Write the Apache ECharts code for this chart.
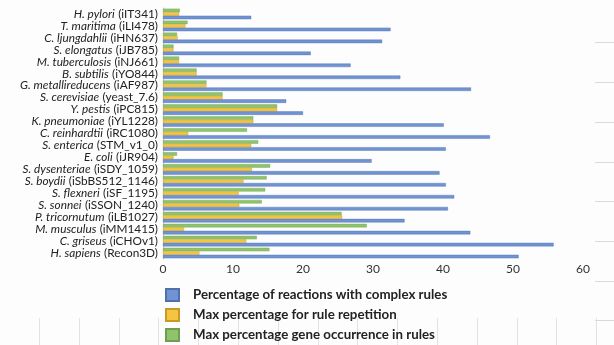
<!DOCTYPE html>
<html><head><meta charset="utf-8">
<script src="https://cdn.jsdelivr.net/npm/echarts@6/dist/echarts.min.js"></script>
<style>html,body{margin:0;padding:0;background:#fff}#c{width:614px;height:345px}</style>
</head><body><div id="c"></div>
<script>
// ---- data ----
const species = ['H. pylori','T. maritima','C. ljungdahlii','S. elongatus','M. tuberculosis','B. subtilis','G. metallireducens','S. cerevisiae','Y. pestis','K. pneumoniae','C. reinhardtii','S. enterica','E. coli','S. dysenteriae','S. boydii','S. flexneri','S. sonnei','P. tricornutum','M. musculus','C. griseus','H. sapiens'];
const models = ['iIT341','iLI478','iHN637','iJB785','iNJ661','iYO844','iAF987','yeast_7.6','iPC815','iYL1228','iRC1080','STM_v1_0','iJR904','iSDY_1059','iSbBS512_1146','iSF_1195','iSSON_1240','iLB1027','iMM1415','iCHOv1','Recon3D'];
const complexRules   = [12.6,32.5,31.3,21.1,26.8,33.9,44.0,17.6,20.0,40.1,46.7,40.4,29.8,39.5,40.4,41.6,40.7,34.5,43.9,55.8,50.8];
const ruleRepetition = [2.3,3.2,2.1,1.5,2.3,4.8,6.2,8.5,16.3,12.9,3.6,12.6,1.5,12.7,11.5,10.8,10.9,25.6,3.0,11.9,5.2];
const geneOccurrence = [2.4,3.5,2.0,1.5,2.3,4.8,6.2,8.5,16.3,12.9,12.0,13.6,2.0,15.3,14.8,14.6,14.1,25.5,29.1,13.4,15.2];
const seriesNames = ['Percentage of reactions with complex rules','Max percentage for rule repetition','Max percentage gene occurrence in rules'];
const xTicks = [0,10,20,30,40,50,60];

const categories = species.map((s,i)=>s+'|'+models[i]);
const colors = {blue:'#6f93d3', yellow:'#f5c542', green:'#8fc46c'};

// background spreadsheet grid decorations
const deco = [];
[42,82,122,162,201,241,281].forEach(y=>deco.push({type:'line',shape:{x1:595,y1:y+0.5,x2:614,y2:y+0.5},style:{stroke:'#d9d9d9',lineWidth:1},z:-10}));
for(let k=0;k<15;k++){const x=Math.round(39+39.8*k)+0.5;deco.push({type:'line',shape:{x1:x,y1:318,x2:x,y2:345},style:{stroke:'#e3e3e3',lineWidth:1},z:-10});}
deco.push({type:'line',shape:{x1:595,y1:320.5,x2:614,y2:320.5},style:{stroke:'#d9d9d9',lineWidth:1},z:-10});

const FONT = 'Lato';
const legendRows = seriesNames.map((n,i)=>({
  orient:'horizontal',left:160,top:283+20*i,itemWidth:13,itemHeight:12,icon:'rect',
  data:[n],backgroundColor:'transparent',
  textStyle:{fontFamily:FONT,fontWeight:'bold',fontSize:13.3,color:'#222',padding:[0,0,0,9]}
}));

const chart = echarts.init(document.getElementById('c'));
chart.setOption({
  animation:false,
  backgroundColor:'#fdfdfd',
  graphic: deco,
  grid:{left:163,right:31,top:8,bottom:86,containLabel:false},
  xAxis:{type:'value',min:xTicks[0],max:xTicks[xTicks.length-1],interval:10,
    axisLine:{show:false},axisTick:{show:false},splitLine:{show:false},
    axisLabel:{color:'#333',fontSize:12,fontFamily:FONT,margin:4}},
  yAxis:{type:'category',inverse:true,data:categories,
    axisLine:{lineStyle:{color:'#c8c8c8'}},axisTick:{show:false},
    axisLabel:{interval:0,margin:5,formatter:v=>{const p=v.split('|');return '{i|'+p[0]+'} {n|('+p[1]+')}';},
      rich:{i:{fontStyle:'italic',fontSize:11.8,fontFamily:FONT,color:'#222'},n:{fontSize:11.8,fontFamily:FONT,color:'#222'}}}},
  legend: legendRows,
  series:[
    {name:seriesNames[2],type:'bar',data:geneOccurrence,itemStyle:{color:colors.green,borderColor:'#6f9e52',borderWidth:0.4},barGap:'0%',barCategoryGap:'12%'},
    {name:seriesNames[1],type:'bar',data:ruleRepetition,itemStyle:{color:colors.yellow,borderColor:'#c99a22',borderWidth:0.4},barGap:'0%',barCategoryGap:'12%'},
    {name:seriesNames[0],type:'bar',data:complexRules,itemStyle:{color:colors.blue,borderColor:'#4f70aa',borderWidth:0.4},barGap:'0%',barCategoryGap:'12%'}
  ]
});
</script></body></html>
